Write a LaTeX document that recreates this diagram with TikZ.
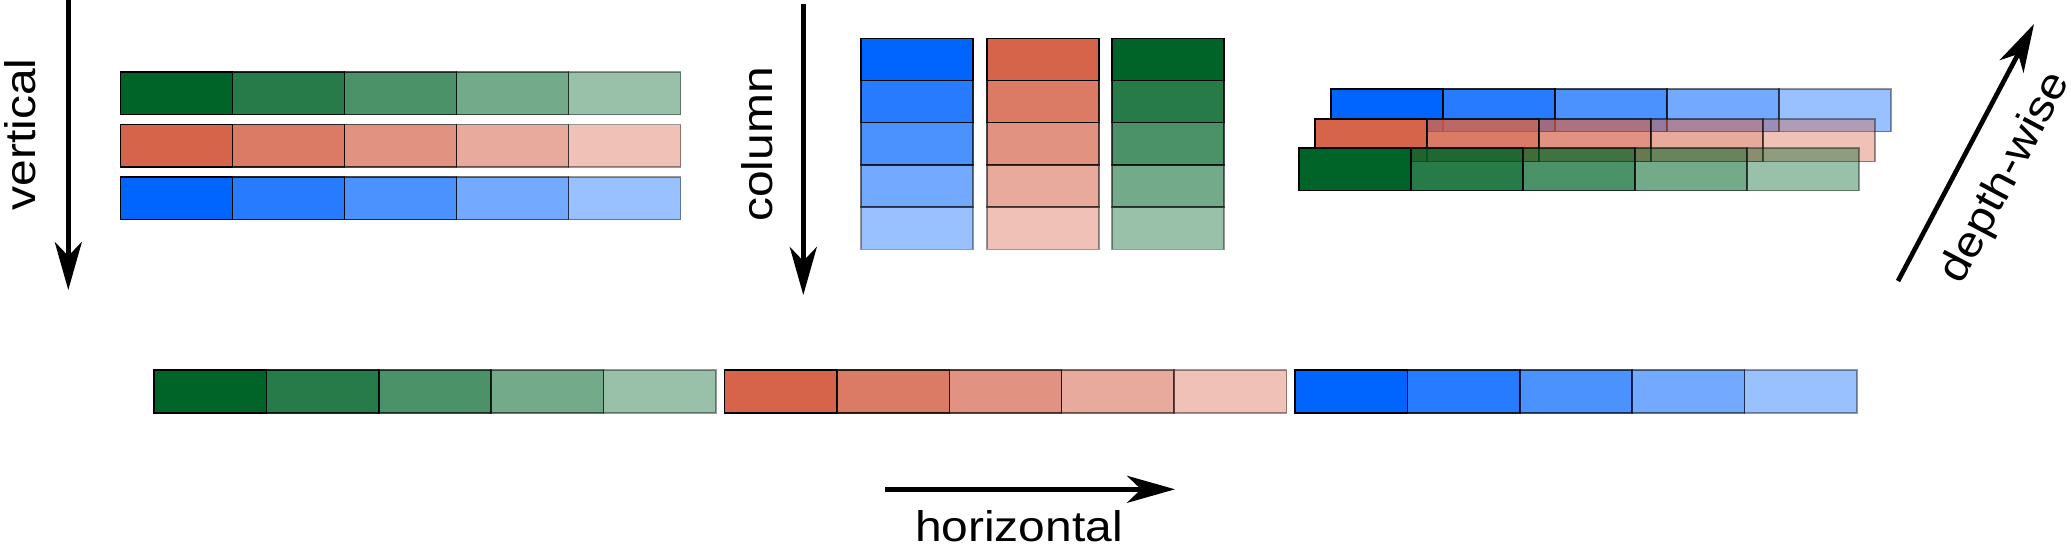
\documentclass[tikz,border=0pt]{standalone}
\usepackage{fontspec}
\newfontfamily\lab{Liberation Sans}[FakeStretch=1.12]
\usetikzlibrary{arrows.meta}
\definecolor{gr}{RGB}{0,100,40}
\definecolor{rd}{RGB}{214,100,74}
\definecolor{bl}{RGB}{0,100,255}
\begin{document}
\begin{tikzpicture}[x=0.5pt,y=-0.5pt,
  cell/.style={draw=black, line width=0.75pt, shape=rectangle, minimum width=56pt,
    minimum height=21.25pt, inner sep=0pt, outer sep=0pt, anchor=north west},
  bigarrow/.style={line width=2.35pt, -{Stealth[length=24pt,width=13.5pt,inset=7pt]}},
  lbl/.style={font=\lab\fontsize{21.4pt}{25pt}\selectfont, inner sep=0pt}]
\useasboundingbox (0,0) rectangle (2071,553);
% vertical stack
\foreach \i/\o in {0/1,1/.85,2/.7,3/.55,4/.4}{
  \node[cell, fill=gr, opacity=\o] (vg\i) at ({120.5+112*\i},72) {};
  \node[cell, fill=rd, opacity=\o] (vr\i) at ({120.5+112*\i},124.5) {};
  \node[cell, fill=bl, opacity=\o] (vb\i) at ({120.5+112*\i},177) {};
}
% column stack
\foreach \i/\o in {0/1,1/.85,2/.7,3/.55,4/.4}{
  \node[cell, minimum height=21.1pt, fill=bl, opacity=\o] (cb\i) at (861,{38.3+42.2*\i}) {};
  \node[cell, minimum height=21.1pt, fill=rd, opacity=\o] (cr\i) at (987,{38.3+42.2*\i}) {};
  \node[cell, minimum height=21.1pt, fill=gr, opacity=\o] (cg\i) at (1112,{38.3+42.2*\i}) {};
}
% depth stack
\foreach \i/\o in {0/1,1/.85,2/.7,3/.55,4/.4}
  \node[cell, fill=bl, opacity=\o] (db\i) at ({1331+112*\i},89) {};
\foreach \i/\o in {0/1,1/.85,2/.7,3/.55,4/.4}
  \node[cell, fill=rd, opacity=\o] (dr\i) at ({1315+112*\i},119) {};
\foreach \i/\o in {0/1,1/.85,2/.7,3/.55,4/.4}
  \node[cell, fill=gr, opacity=\o] (dg\i) at ({1299+112*\i},148) {};
% horizontal row
\foreach \i/\o in {0/1,1/.85,2/.7,3/.55,4/.4}{
  \node[cell, minimum width=56.2pt, minimum height=21.5pt, fill=gr, opacity=\o] (hg\i) at ({154+112.4*\i},370) {};
  \node[cell, minimum width=56.2pt, minimum height=21.5pt, fill=rd, opacity=\o] (hr\i) at ({724.5+112.4*\i},370) {};
  \node[cell, minimum width=56.2pt, minimum height=21.5pt, fill=bl, opacity=\o] (hb\i) at ({1295+112.4*\i},370) {};
}
% arrows
\coordinate (va) at (68.3,0);
\coordinate (vb) at (68.3,290);
\coordinate (ca) at (803.3,4);
\coordinate (cb) at (803.3,295);
\coordinate (ha) at (885,489.3);
\coordinate (hb) at (1175,489.3);
\coordinate (da) at (1898,281);
\coordinate (db) at (2034,24);
\draw[bigarrow] (va) -- (vb);
\draw[bigarrow] (ca) -- (cb);
\draw[bigarrow] (ha) -- (hb);
\draw[bigarrow] (da) -- (db);
% labels
\node[lbl, rotate=90, anchor=base] (tv) at (35,134.5) {vertical};
\node[lbl, rotate=90, anchor=base] (tc) at (772,144.5) {column};
\node[lbl, anchor=base] (th) at (1019,541) {horizontal};
\node[lbl, rotate=62.1, anchor=center] (td) at (2006,178) {depth-wise};
\end{tikzpicture}
\end{document}
